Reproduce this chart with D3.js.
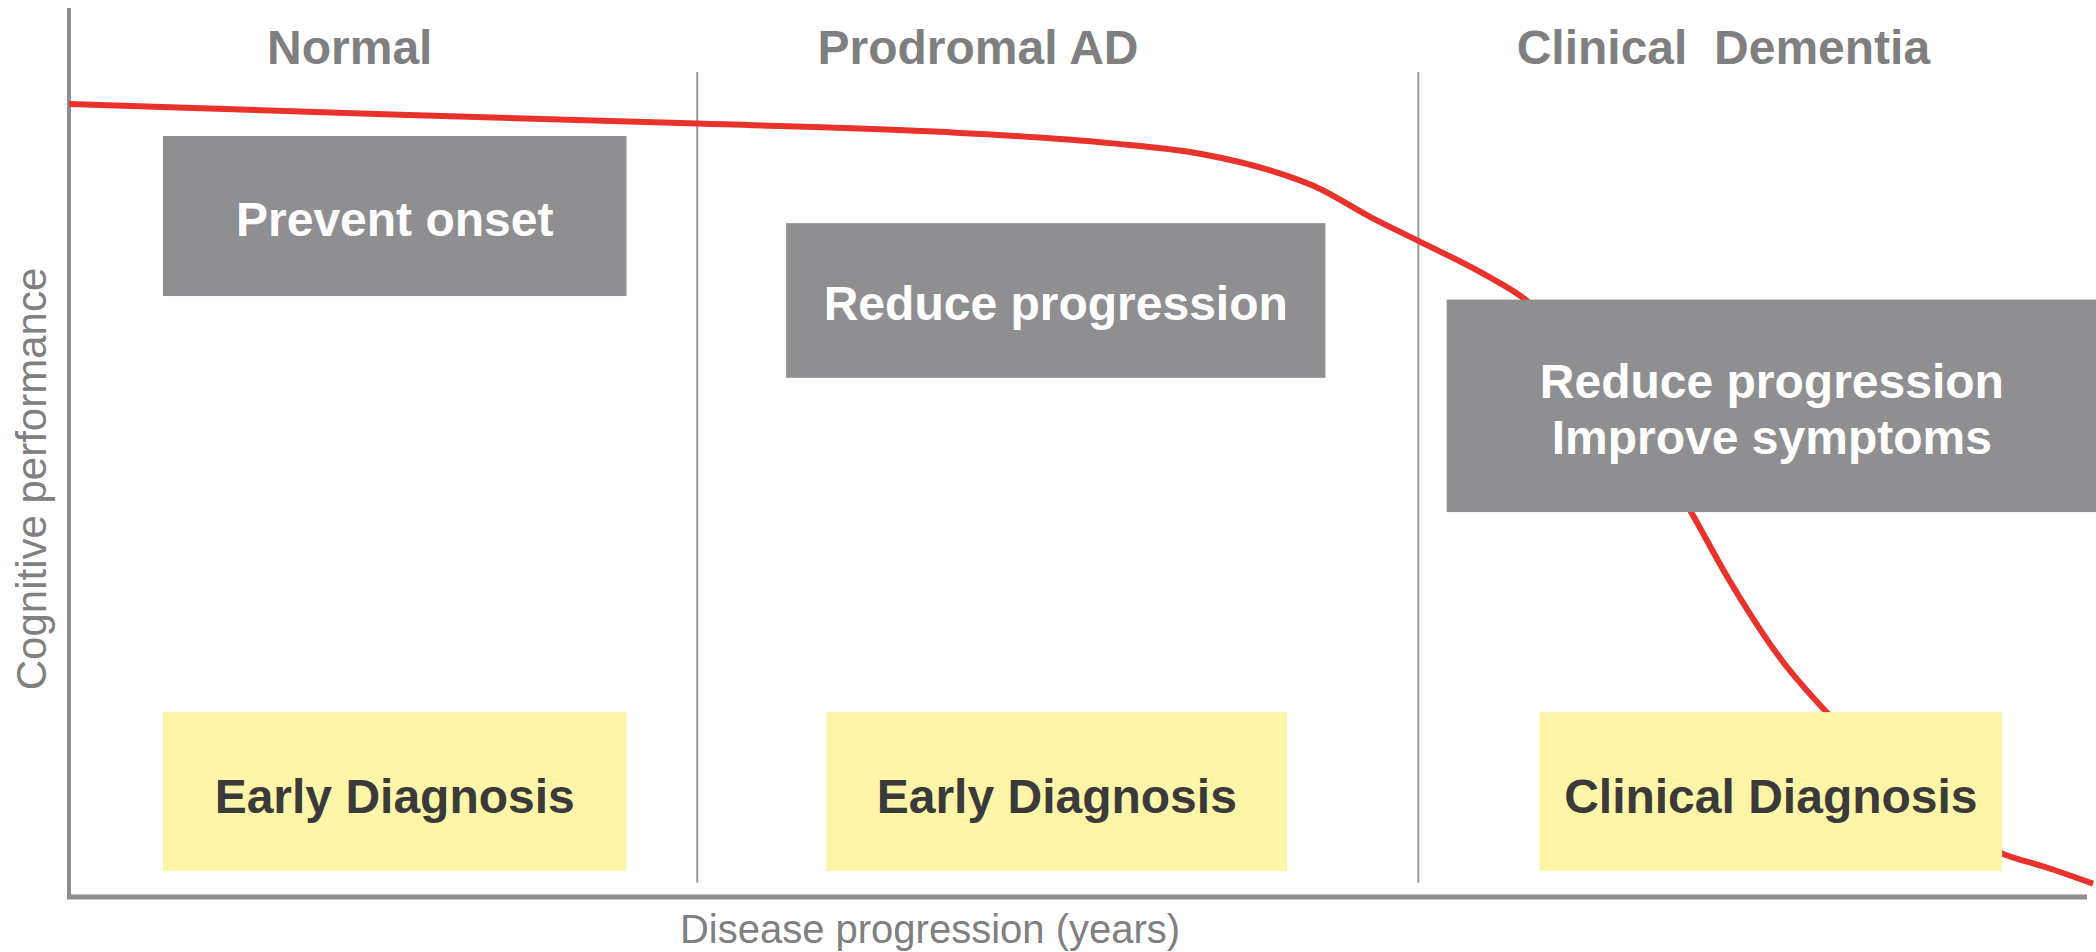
<!DOCTYPE html>
<html>
<head>
<meta charset="utf-8">
<script src="https://cdn.jsdelivr.net/npm/d3@7"></script>
<style>
  body { margin: 0; background: #fff; }
  text { font-family: "Liberation Sans", Arial, sans-serif; }
</style>
</head>
<body>
<div id="chart"></div>
<script>
// Stage headers and their centres on the progression axis (0-100)
const stageNames = ["Normal", "Prodromal AD", "Clinical  Dementia"];
const stageCentres = [13.9, 45.0, 81.9];
const dividers = [31.1, 66.8];

// Therapy goal boxes (grey): x0, x1, yTop, yBottom in chart units
const goalLabels = [["Prevent onset"], ["Reduce progression"], ["Reduce progression", "Improve symptoms"]];
const goalX = [[4.65, 27.6], [35.5, 62.2], [68.2, 100.4]];
const goalY = [[85.6, 67.6], [75.8, 58.4], [67.2, 43.3]];

// Diagnosis boxes (yellow)
const diagLabels = ["Early Diagnosis", "Early Diagnosis", "Clinical Diagnosis"];
const diagX = [[4.65, 27.6], [37.5, 60.3], [72.8, 95.7]];
const diagY = [20.8, 2.9];

// Cognitive performance curve
const curveX = [0, 16.4, 31.1, 42.9, 51.5, 56.0, 60.2, 61.6, 64.5, 66.8, 70.1, 72.1, 75.8, 78.8, 80.3, 82.2, 84.8, 87.0, 89.7, 92.6, 95.7, 97.8, 100.2];
const curveY = [89.2, 88.0, 87.0, 86.1, 84.8, 83.6, 81.2, 80.0, 76.4, 73.8, 70.0, 67.2, 57.6, 49.1, 43.3, 35.6, 26.6, 20.8, 14.8, 9.2, 4.9, 3.4, 1.5];

const width = 2096, height = 952;
const svg = d3.select("#chart").append("svg")
    .attr("width", width)
    .attr("height", height);

const x = d3.scaleLinear().domain([0, 100]).range([69, 2089]);
const y = d3.scaleLinear().domain([0, 100]).range([897, 8]);

// axes: plain L shape, no ticks
svg.append("line")
    .attr("x1", x(0)).attr("x2", x(0))
    .attr("y1", y(100)).attr("y2", y(0) + 2)
    .attr("stroke", "#8e8e8e").attr("stroke-width", 4);
svg.append("line")
    .attr("x1", x(0) - 2).attr("x2", x(99.9))
    .attr("y1", y(0)).attr("y2", y(0))
    .attr("stroke", "#8e8e8e").attr("stroke-width", 5);

// stage dividers
svg.selectAll(".divider")
    .data(dividers)
    .enter()
    .append("line")
    .attr("class", "divider")
    .attr("x1", d => x(d)).attr("x2", d => x(d))
    .attr("y1", y(92.8)).attr("y2", y(1.6))
    .attr("stroke", "#9a9a9a").attr("stroke-width", 2);

// red curve
const pts = curveX.map((v, i) => [v, curveY[i]]);
const line = d3.line()
    .x(d => x(d[0]))
    .y(d => y(d[1]))
    .curve(d3.curveMonotoneX);
svg.append("path")
    .datum(pts)
    .attr("d", line)
    .attr("fill", "none")
    .attr("stroke", "#e8322b")
    .attr("stroke-width", 6);

// grey goal boxes
const goals = svg.selectAll(".goal")
    .data(goalLabels)
    .enter()
    .append("g")
    .attr("class", "goal");
goals.append("rect")
    .attr("x", (d, i) => x(goalX[i][0]))
    .attr("width", (d, i) => x(goalX[i][1]) - x(goalX[i][0]))
    .attr("y", (d, i) => y(goalY[i][0]))
    .attr("height", (d, i) => y(goalY[i][1]) - y(goalY[i][0]))
    .attr("fill", "#8f8f91");
goals.each(function (d, i) {
    const cx = (x(goalX[i][0]) + x(goalX[i][1])) / 2;
    const cy = (y(goalY[i][0]) + y(goalY[i][1])) / 2;
    const lh = 56;
    d.forEach((t, j) => {
        d3.select(this).append("text")
            .attr("x", cx)
            .attr("y", cy + 20 + (j - (d.length - 1) / 2) * lh)
            .attr("text-anchor", "middle")
            .attr("font-size", 48)
            .attr("font-weight", "bold")
            .attr("fill", "#fff")
            .text(t);
    });
});

// yellow diagnosis boxes
svg.selectAll(".diag")
    .data(diagLabels)
    .enter()
    .append("rect")
    .attr("class", "diag")
    .attr("x", (d, i) => x(diagX[i][0]))
    .attr("width", (d, i) => x(diagX[i][1]) - x(diagX[i][0]))
    .attr("y", y(diagY[0]))
    .attr("height", y(diagY[1]) - y(diagY[0]))
    .attr("fill", "#fff5a8");
svg.selectAll(".diagText")
    .data(diagLabels)
    .enter()
    .append("text")
    .attr("class", "diagText")
    .attr("x", (d, i) => (x(diagX[i][0]) + x(diagX[i][1])) / 2)
    .attr("y", (y(diagY[0]) + y(diagY[1])) / 2 + 21)
    .attr("text-anchor", "middle")
    .attr("font-size", 48)
    .attr("font-weight", "bold")
    .attr("fill", "#3a3a3a")
    .text(d => d);

// stage headers
svg.selectAll(".stage")
    .data(stageNames)
    .enter()
    .append("text")
    .attr("class", "stage")
    .attr("x", (d, i) => x(stageCentres[i]))
    .attr("y", y(93.7))
    .attr("text-anchor", "middle")
    .attr("font-size", 48)
    .attr("font-weight", "bold")
    .attr("fill", "#7f7f7f")
    .style("white-space", "pre")
    .text(d => d);

// axis titles
svg.append("text")
    .attr("x", 930)
    .attr("y", 943)
    .attr("text-anchor", "middle")
    .attr("font-size", 40)
    .attr("fill", "#808080")
    .text("Disease progression (years)");

svg.append("text")
    .attr("transform", "translate(46, 479) rotate(-90)")
    .attr("text-anchor", "middle")
    .attr("font-size", 42)
    .attr("fill", "#808080")
    .text("Cognitive performance");
</script>
</body>
</html>
